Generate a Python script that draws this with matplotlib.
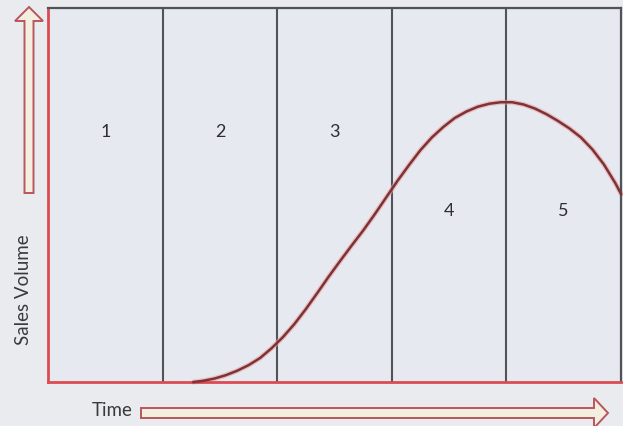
"""Product life cycle sketch: sales volume over time across five stages."""

import numpy as np
import matplotlib
matplotlib.use("Agg")
import matplotlib.pyplot as plt
from matplotlib.patches import FancyArrow

plt.rcParams.update({
    "font.family": ["Lato", "DejaVu Sans"],
})

# stage labels and boundaries (time in stage units)
stages = ["1", "2", "3", "4", "5"]
stage_edges = [1, 2, 3, 4]
label_heights = [67, 67, 67, 46, 46]

# sales curve (time, volume 0-100)
time_pts = [1.27, 1.35, 1.45, 1.55, 1.65, 1.75, 1.85, 1.95, 2.05, 2.15,
            2.25, 2.35, 2.45, 2.55, 2.65, 2.75, 2.85, 2.95, 3.05, 3.15,
            3.25, 3.35, 3.45, 3.55, 3.65, 3.75, 3.85, 3.95, 4.05, 4.15,
            4.25, 4.35, 4.45, 4.55, 4.65, 4.75, 4.85, 4.95, 5.00]
sales_pts = [0.0, 0.3, 0.9, 1.8, 3.0, 4.5, 6.4, 9.0, 12.0, 15.5,
             19.5, 23.8, 28.2, 32.4, 36.5, 40.5, 44.8, 49.3, 53.8, 58.0,
             62.0, 65.4, 68.2, 70.6, 72.3, 73.6, 74.4, 74.8, 74.8, 74.2,
             73.1, 71.6, 69.8, 67.8, 65.4, 62.2, 58.2, 53.2, 50.3]

BG = "#e9ebee"
RED = "#dc4a52"
DARK = "#505458"
W, H = 623, 427

fig = plt.figure(figsize=(W / 100, H / 100), dpi=100, facecolor=BG)

# main box in pixel placement
x0, x1, ytop, ybot = 48, 621, 9, 383
ax = fig.add_axes([x0 / W, (H - ybot) / H, (x1 - x0) / W, (ybot - ytop) / H])
ax.set_facecolor("#e6e9ef")
ax.set_xlim(0, 5)
ax.set_ylim(0, 100)
ax.set_xticks([])
ax.set_yticks([])
for side in ("left", "bottom"):
    ax.spines[side].set_color(RED)
    ax.spines[side].set_linewidth(2.0)
for side in ("top", "right"):
    ax.spines[side].set_color(DARK)
    ax.spines[side].set_linewidth(1.6)

for xe in stage_edges:
    ax.axvline(xe, color=DARK, lw=1.5, zorder=1)

# soft pink halo under the curve, then the curve itself
ax.plot(time_pts, sales_pts, color="#f0a0a0", lw=3.6, alpha=0.6,
        solid_capstyle="round", zorder=2, clip_on=False)
ax.plot(time_pts, sales_pts, color="#7a3438", lw=1.8, zorder=3,
        clip_on=False)

for i, (s, h) in enumerate(zip(stages, label_heights)):
    ax.text(i + 0.5, h, s, ha="center", va="center", fontsize=13,
            color="#2e2e2e")

# overlay in pixel coordinates for the hollow arrows and axis words
ov = fig.add_axes([0, 0, 1, 1], facecolor="none")
ov.set_xlim(0, W)
ov.set_ylim(H, 0)
ov.axis("off")

ov.add_patch(FancyArrow(29, 194, 0, -186, width=9, head_width=28,
                        head_length=14, length_includes_head=True,
                        facecolor="#f4eee0", edgecolor="#b8565e", lw=1.4))
ov.add_patch(FancyArrow(141, 414, 467, 0, width=10, head_width=30,
                        head_length=14, length_includes_head=True,
                        facecolor="#f4eee0", edgecolor="#b8565e", lw=1.4))

ov.text(24, 290, "Sales Volume", rotation=90, ha="center", va="center",
        fontsize=13.5, color="#3a3a3a")
ov.text(133, 411, "Time", ha="right", va="center", fontsize=13.5,
        color="#3a3a3a")

fig.savefig("out.png", dpi=100, facecolor=BG)
